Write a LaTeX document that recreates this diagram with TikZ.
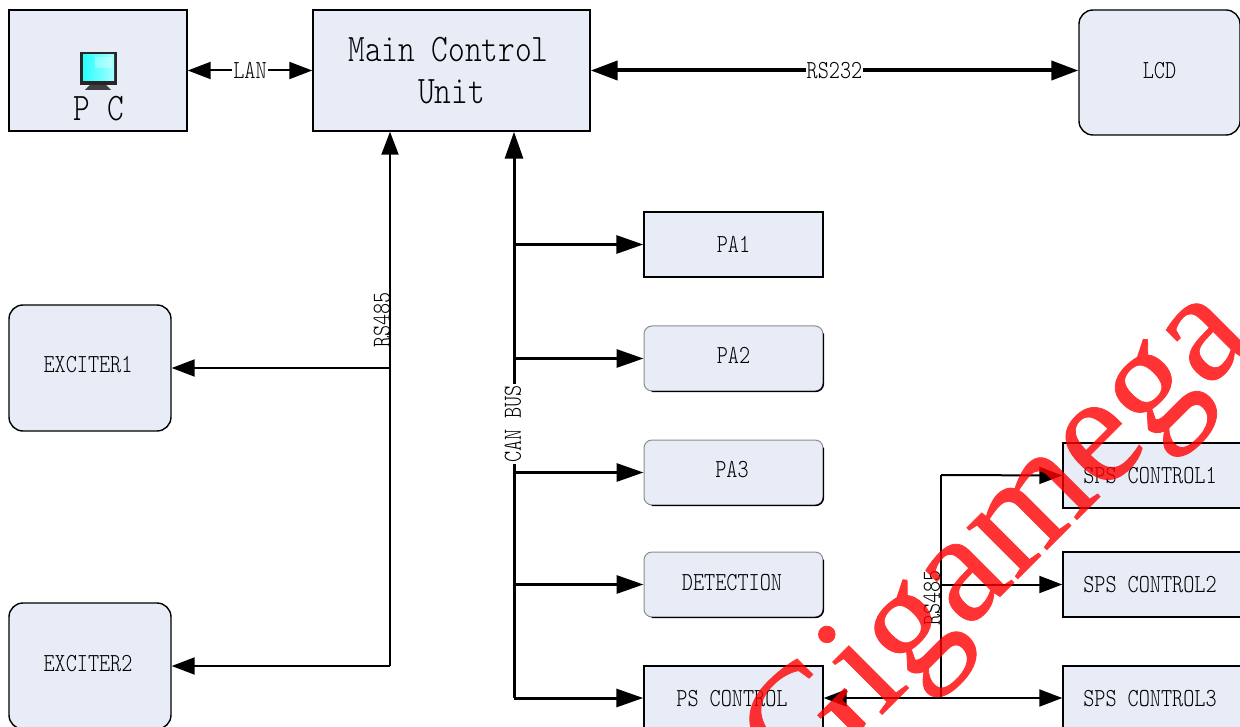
\documentclass[tikz,border=0pt]{standalone}
\usepackage{fontspec}
\usetikzlibrary{arrows.meta,calc}
\newfontfamily\simf[FakeStretch=0.815]{Latin Modern Mono Light}
\newfontfamily\wmf[FakeBold=0.5]{Liberation Serif}
\definecolor{boxfill}{HTML}{E8ECF7}
\newcommand{\off}[3]{\hspace*{#1pt}\raisebox{#2pt}[0pt][0pt]{#3}}
\tikzset{
  x=1pt,y=-1pt,
  basebox/.style={draw=black,line width=1.4pt,fill=boxfill,inner sep=0pt,font=\simf\fontsize{26}{30}\selectfont,align=center},
  sqbox/.style={basebox},
  rdbox/.style={basebox,rounded corners=8pt,draw=black!45,line width=1pt},
  rdedge/.style={draw=black,line width=1.4pt,rounded corners=8pt},
  bigrd/.style={basebox,rounded corners=14pt},
  big/.style={font=\simf\fontsize{39}{42}\selectfont},
  lab/.style={font=\simf\fontsize{26}{30}\selectfont,inner sep=1pt},
  wlab/.style={lab,fill=white},
  c2/.style={line width=2pt,-{Triangle[length=23pt,width=17pt]}},
  c2b/.style={line width=2pt,{Triangle[length=23pt,width=17pt]}-{Triangle[length=23pt,width=17pt]}},
  c3/.style={line width=3pt,-{Triangle[length=27pt,width=18pt]}},
  c4/.style={line width=4pt,{Triangle[length=27pt,width=19pt]}-{Triangle[length=27pt,width=19pt]}},
}
\begin{document}
\begin{tikzpicture}
\useasboundingbox (0,0) rectangle (1240,727);
\clip (0,0) rectangle (1240,727);
% boxes
\node[sqbox,big,minimum width=178pt,minimum height=121pt] (pc) at (98,70.5) {\off{2}{-50}{P C}};
\node[sqbox,big,minimum width=277pt,minimum height=121pt,align=center] (main) at (451.5,70.5) {\hspace*{-6pt}Main Control\\Unit};
\node[bigrd,minimum width=161pt,minimum height=125pt] (lcd) at (1159.5,72.5) {\off{0}{-6}{LCD}};
\node[sqbox,minimum width=179pt,minimum height=65pt] (pa1) at (733.5,244.5) {\off{0}{-8}{PA1}};
\node[rdbox,minimum width=179pt,minimum height=65pt] (pa2) at (733.5,358.5) {\off{0}{-5}{PA2}};
\node[rdbox,minimum width=179pt,minimum height=65pt] (pa3) at (733.5,472.5) {\off{-3}{-5}{PA3}};
\node[rdbox,minimum width=179pt,minimum height=65pt] (det) at (733.5,584.5) {\off{-3}{-6}{DETECTION}};
\foreach \b in {pa2,pa3,det}
  \draw[rdedge] ([xshift=8pt]\b.south west) -- (\b.south east) -- ([yshift=-8pt]\b.north east);
\node[sqbox,minimum width=179pt,minimum height=64pt] (ps) at (733.5,698) {\off{-3}{-8}{PS CONTROL}};
\node[bigrd,minimum width=162pt,minimum height=126pt] (ex1) at (90,368) {\off{-4}{-5}{EXCITER1}};
\node[bigrd,minimum width=162pt,minimum height=126pt] (ex2) at (90,666) {\off{-4}{-5}{EXCITER2}};
\node[sqbox,minimum width=190pt,minimum height=65pt] (sps1) at (1158,475.5) {\off{-16}{-8}{SPS CONTROL1}};
\node[sqbox,minimum width=190pt,minimum height=65pt] (sps2) at (1158,584.5) {\off{-16}{-8}{SPS CONTROL2}};
\node[sqbox,minimum width=190pt,minimum height=64pt] (sps3) at (1158,698) {\off{-16}{-8}{SPS CONTROL3}};
% monitor icon
\fill[black!85] (80,52) rectangle (117,85);
\shade[left color=cyan!85,right color=cyan!35!white] (83,55) rectangle (114,81);
\fill[white,opacity=.3] (95,57) rectangle (112,68);
\fill[black!75] (90,85) -- (106,85) -- (111,90) -- (85,90) -- cycle;
% bus reference points
\coordinate (rsx) at (390,368);
\coordinate (canx) at (514,400);
\coordinate (rsy) at (941,475);
% connectors
\draw[c2b] (pc.east) -- node[wlab,pos=.5] (lan) {LAN} (main.west);
\draw[c4] (main.east) -- node[wlab,pos=.5] (rs232) {RS232} (lcd.west |- main.east);
\draw[line width=2pt,-{Triangle[length=23pt,width=17pt]}] (rsx |- ex2.east) -- (main.south -| rsx);
\draw[c2] (rsx) -- (ex1.east);
\draw[c2] (rsx |- ex2.east) -- (ex2.east);
\draw[line width=3pt,-{Triangle[length=27pt,width=18pt]}] (canx |- ps.west) -- (main.south -| canx);
\draw[c3] (canx |- pa1.west) -- (pa1.west);
\draw[c3] (canx |- pa2.west) -- (pa2.west);
\draw[c3] (canx |- pa3.west) -- (pa3.west);
\draw[c3] (canx |- det.west) -- (det.west);
\draw[c3] (canx |- ps.west) -- (ps.west);
\node[wlab,rotate=90] (canlab) at (513,424) {CAN BUS};
\node[lab,rotate=90] (rs1) at (382,320) {RS485};
\draw[line width=1.5pt] (rsy) -- (rsy |- sps3.west);
\draw[c2] (rsy) -- (sps1.west);
\draw[c2] (rsy |- sps2.west) -- (sps2.west);
\draw[c2b] (ps.east) -- (sps3.west);
\node[lab,rotate=90] (rs2) at (932,598) {RS485};
% watermark
\begin{scope}[transparency group,opacity=.8]
\node[rotate=45,anchor=base west,inner sep=0pt,text=red,font=\wmf\fontsize{157}{157}\selectfont] (wm) at (799.5,797) {Gigamega};
\end{scope}
\end{tikzpicture}
\end{document}
